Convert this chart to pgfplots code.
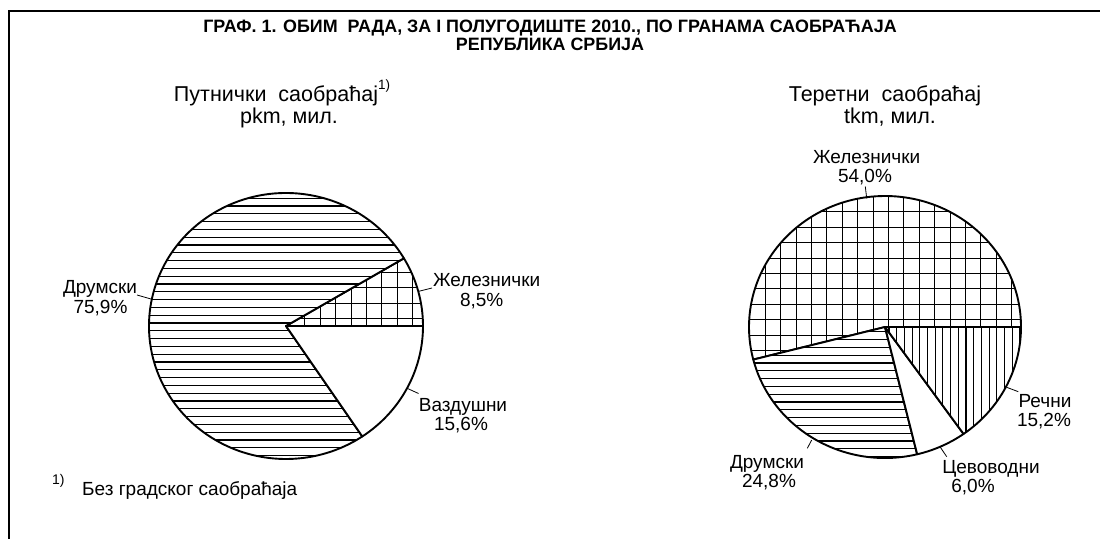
\documentclass[border=0pt]{standalone}
\usepackage{pgfplots}
\pgfplotsset{compat=1.18}
\usepackage{pgfplotstable}
\usepackage{fontspec}
\setmainfont{Liberation Sans}

% share of each transport branch, in percent; pat = hatch style
\pgfplotstableread{
pct  pat
8.5  g
75.9 h
15.6 n
}\passenger
\pgfplotstableread{
pct  pat
54.0 g
24.8 h
6.0  n
15.2 v
}\freight

\tikzset{
  lab/.style={font=\fontsize{19}{21}\selectfont, inner sep=0pt, anchor=base},
  hl/.style={line width=1.1pt},
}

% hatching inside the current clip, centred on (#1,#2)
\newcommand\hatch[3]{% #1 cx, #2 cy, #3 type
  \if#3h
    \foreach \k in {-18,...,18}{\draw[hl] ([shift={(-150pt,\k*7.8pt+3pt)}]axis cs:#1,#2) -- ++(300pt,0);}
  \fi
  \if#3v
    \foreach \k in {-20,...,20}{\draw[hl] ([shift={(\k*7.7pt+4pt,-150pt)}]axis cs:#1,#2) -- ++(0,300pt);}
  \fi
  \if#3g
    \foreach \k in {-10,...,10}{%
      \draw[hl] ([shift={(-150pt,\k*15.4pt+7.3pt)}]axis cs:#1,#2) -- ++(300pt,0);
      \draw[hl] ([shift={(\k*15.4pt+3.5pt,-150pt)}]axis cs:#1,#2) -- ++(0,300pt);}
  \fi
}

% #1 table, #2 cx, #3 cy, #4 rx, #5 ry
\newcommand\piechart[5]{%
  \gdef\cumang{0}%
  \pgfplotstablegetrowsof{#1}%
  \pgfmathtruncatemacro\lastrow{\pgfplotsretval-1}%
  \foreach \i in {0,...,\lastrow}{%
    \pgfplotstablegetelem{\i}{pct}\of{#1}%
    \pgfmathsetmacro\sweep{3.6*\pgfplotsretval}%
    \pgfplotstablegetelem{\i}{pat}\of{#1}%
    \edef\pat{\pgfplotsretval}%
    \pgfmathsetmacro\endang{\cumang+\sweep}%
    \begin{scope}
      \clip (axis cs:#2,#3) -- ++(\cumang:#4pt and #5pt)
        arc[start angle=\cumang, end angle=\endang, x radius=#4pt, y radius=#5pt] -- cycle;
      \fill[white] ([shift={(-160pt,-160pt)}]axis cs:#2,#3) rectangle ++(320pt,320pt);
      \edef\next{\noexpand\hatch{#2}{#3}{\pat}}\next
    \end{scope}
    \draw[line width=1.9pt, line join=round] (axis cs:#2,#3) -- ++(\cumang:#4pt and #5pt)
      arc[start angle=\cumang, end angle=\endang, x radius=#4pt, y radius=#5pt] -- cycle;
    \xdef\cumang{\endang}%
  }%
}

\begin{document}
\begin{tikzpicture}
\useasboundingbox (0,0) rectangle (1100pt,538pt);
\begin{axis}[
  at={(0,0)}, anchor=south west,
  width=1100pt, height=538pt, scale only axis,
  xmin=0, xmax=1100, ymin=0, ymax=538, y dir=reverse,
  hide axis, clip=false,
]
% frame
\draw[line width=2pt] (axis cs:9,540) -- (axis cs:9,11) -- (axis cs:1102,11);

% title
\node[font=\bfseries\fontsize{17.9}{20}\selectfont, anchor=base, inner sep=0pt] at (axis cs:550,32.5)
  {ГРАФ. 1. ОБИМ\ \ РАДА, ЗА I ПОЛУГОДИШТЕ 2010., ПО ГРАНАМА САОБРАЋАЈА};
\node[font=\bfseries\fontsize{17.9}{20}\selectfont, anchor=base, inner sep=0pt] at (axis cs:550,50.5)
  {РЕПУБЛИКА СРБИЈА};

% subtitles
\node[font=\fontsize{21.5}{23}\selectfont, anchor=base, inner sep=0pt] at (axis cs:276,101.5)
  {Путнички\ \ саобраћај\rlap{\raisebox{0.55em}{\fontsize{13.5}{14}\selectfont 1)}}};
\node[font=\fontsize{21.5}{23}\selectfont, anchor=base, inner sep=0pt] at (axis cs:289,123)
  {pkm, мил.};
\node[font=\fontsize{21.5}{23}\selectfont, anchor=base, inner sep=0pt] at (axis cs:885,101.5)
  {Теретни\ \ саобраћај};
\node[font=\fontsize{21.5}{23}\selectfont, anchor=base, inner sep=0pt] at (axis cs:890,123)
  {tkm, мил.};

\pgfplotsextra{\piechart{\passenger}{286}{326}{137}{133}}
\pgfplotsextra{\piechart{\freight}{885}{327}{136}{131}}

% leader lines
\draw[line width=0.8pt] (axis cs:137,295) -- (axis cs:151,299);
\draw[line width=0.8pt] (axis cs:418,291.5) -- (axis cs:432,288);
\draw[line width=0.8pt] (axis cs:406.5,388) -- (axis cs:418.5,393.5);
\draw[line width=0.8pt] (axis cs:865.3,186.5) -- (axis cs:866.7,198.5);
\draw[line width=0.8pt] (axis cs:1006.7,387.3) -- (axis cs:1018.3,391.7);
\draw[line width=0.8pt] (axis cs:940,446.7) -- (axis cs:946.7,456.7);
\draw[line width=0.8pt] (axis cs:807.3,448.3) -- (axis cs:811.7,440);

% labels
\node[lab] at (axis cs:100,293.3) {Друмски};
\node[lab] at (axis cs:100.5,313) {75,9\%};
\node[lab] at (axis cs:486.7,286.7) {Железнички};
\node[lab] at (axis cs:481.7,306.7) {8,5\%};
\node[lab] at (axis cs:463,411.7) {Ваздушни};
\node[lab] at (axis cs:461,430.7) {15,6\%};
\node[lab] at (axis cs:866.7,163.3) {Железнички};
\node[lab] at (axis cs:865,182.7) {54,0\%};
\node[lab] at (axis cs:1045,407) {Речни};
\node[lab] at (axis cs:1044,426.5) {15,2\%};
\node[lab] at (axis cs:991,473) {Цевоводни};
\node[lab] at (axis cs:973,492.5) {6,0\%};
\node[lab] at (axis cs:767,468) {Друмски};
\node[lab] at (axis cs:769,487.5) {24,8\%};

% footnote
\node[font=\fontsize{14}{14}\selectfont, anchor=base west, inner sep=0pt] at (axis cs:52,484) {1)};
\node[font=\fontsize{19}{20}\selectfont, anchor=base west, inner sep=0pt] at (axis cs:82,495) {Без градског саобраћаја};
\end{axis}
\end{tikzpicture}
\end{document}
